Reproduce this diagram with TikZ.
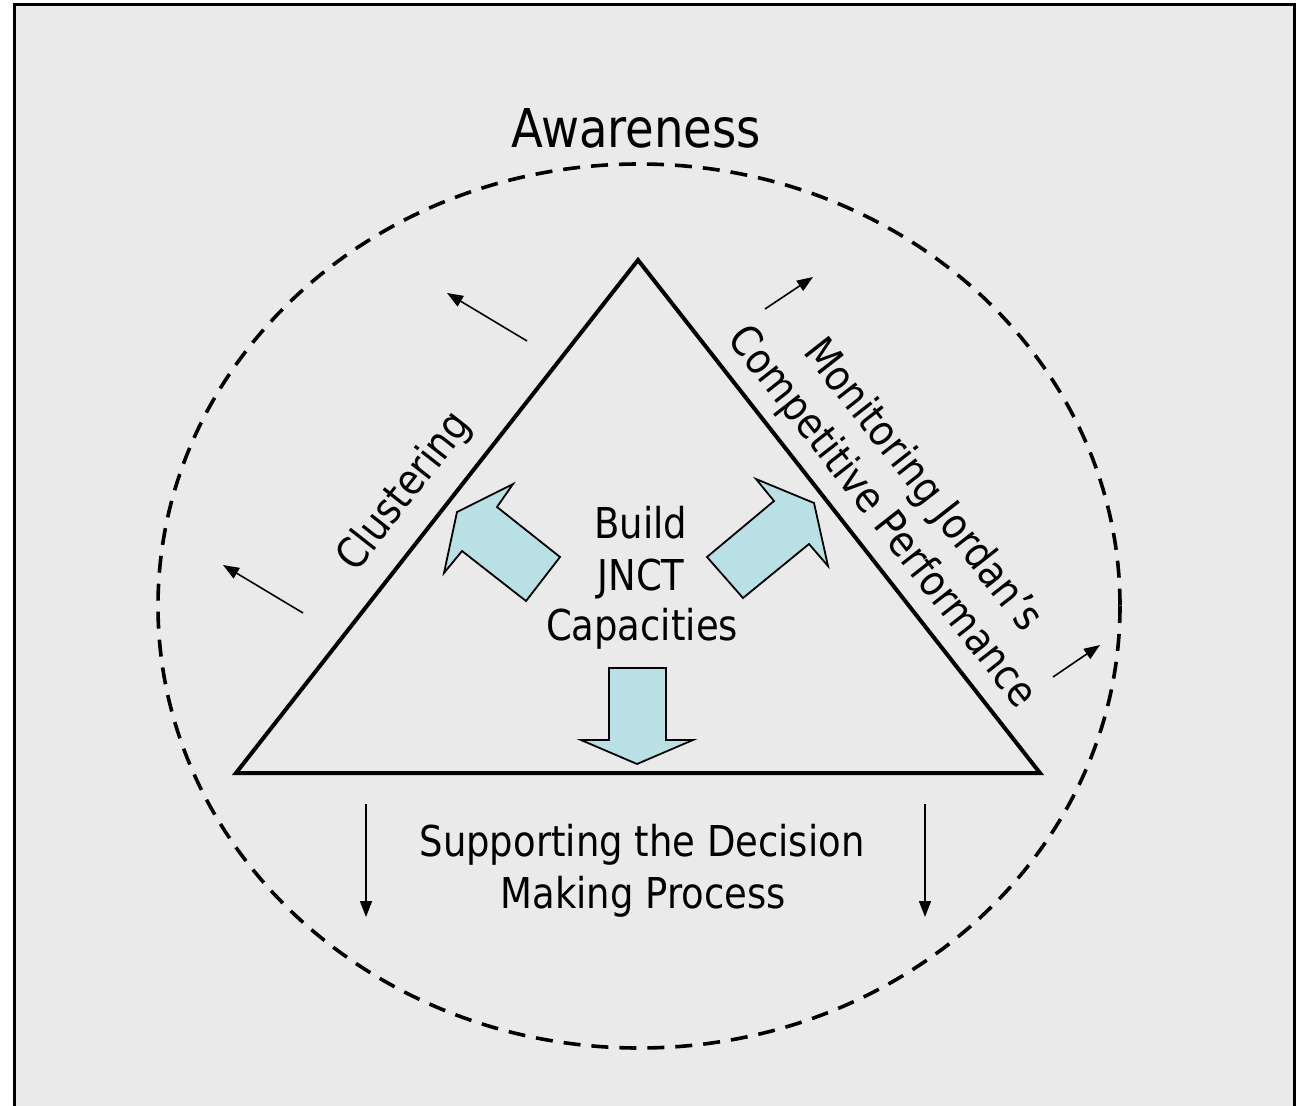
\documentclass[tikz,border=0pt]{standalone}
\usepackage{fontspec}
\setmainfont{DejaVu Sans}[FakeStretch=0.87]
\usetikzlibrary{arrows.meta}
\definecolor{bggray}{RGB}{234,234,234}
\definecolor{arrowfill}{RGB}{185,224,228}
\tikzset{
  lbl/.style={inner sep=0pt, align=center, font=\fontsize{42.5}{52}\selectfont},
  bigarrow/.style={draw=black, fill=arrowfill, line width=1.8pt, line join=miter},
  smallarrow/.style={draw=black, line width=1.6pt, -{Triangle[length=16pt,width=12pt]}},
  tri/.style={draw=black, line width=4pt, line join=miter},
  ring/.style={draw=black, line width=3.6pt, dash pattern=on 17pt off 11pt}
}
\begin{document}
\begin{tikzpicture}[x=1pt,y=-1pt]
\useasboundingbox (0,0) rectangle (1297,1105);
\fill[white] (0,0) rectangle (1297,1105);
\draw[fill=bggray, line width=3pt] (14,5) rectangle (1294,1130);
% ring
\draw[ring] (639,606) ellipse [x radius=481, y radius=442];
% triangle
\draw[tri] (638,260) -- (1040,773) -- (236,773) -- cycle;
% texts
\node[lbl, font=\fontsize{53.5}{60}\selectfont, anchor=base] (aware) at (636,147) {Awareness};
\node[lbl, anchor=base] (build1) at (641,538) {Build};
\node[lbl, anchor=base] (build2) at (641,590) {JNCT};
\node[lbl, anchor=base] (build3) at (642,640) {Capacities};
\node[lbl, anchor=base] (supp1) at (642,856) {Supporting the Decision};
\node[lbl, anchor=base] (supp2) at (643,908) {Making Process};
\node[lbl, rotate=51.9] (clust) at (405,492) {Clustering};
\node[lbl, rotate=-51.9, text depth=0pt] (monit) at (905,499) {Monitoring Jordan’s\\Competitive Performance};
% big block arrows
\path[bigarrow] (609,668) -- (666,668) -- (666,740) -- (693,740) -- (637,764) -- (581,740) -- (609,740) -- cycle;
\path[bigarrow] (513,484) -- (497,507) -- (560,557) -- (526,601) -- (462,551) -- (444,573) -- (457,512) -- cycle;
\path[bigarrow] (756,479) -- (774,501) -- (707,557) -- (743,598) -- (809,544) -- (828,566) -- (814,503) -- cycle;
% small arrows
\coordinate (a1s) at (527,341); \coordinate (a1e) at (447,293);
\coordinate (a2s) at (303,613); \coordinate (a2e) at (223,565);
\coordinate (a3s) at (765,309); \coordinate (a3e) at (813,277);
\coordinate (a4s) at (1053,677); \coordinate (a4e) at (1100,645);
\coordinate (a5s) at (366,804); \coordinate (a5e) at (366,917);
\coordinate (a6s) at (925,804); \coordinate (a6e) at (925,917);
\draw[smallarrow] (a1s) -- (a1e);
\draw[smallarrow] (a2s) -- (a2e);
\draw[smallarrow] (a3s) -- (a3e);
\draw[smallarrow] (a4s) -- (a4e);
\draw[smallarrow] (a5s) -- (a5e);
\draw[smallarrow] (a6s) -- (a6e);
\end{tikzpicture}
\end{document}
